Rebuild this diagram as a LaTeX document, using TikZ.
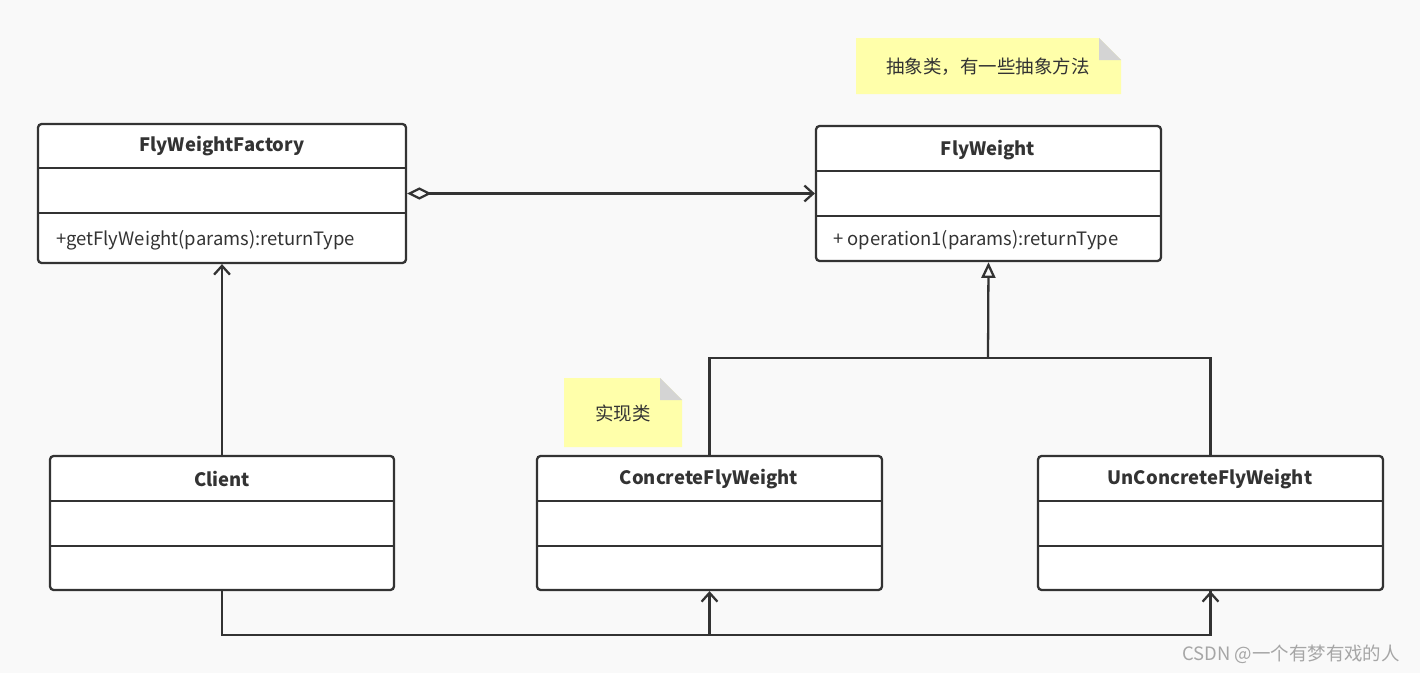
\documentclass[tikz,border=0pt]{standalone}
\usepackage{fontspec}
\setmainfont{Noto Sans CJK SC}
\usetikzlibrary{arrows.meta,positioning}
\definecolor{bgc}{HTML}{F9F9F9}
\definecolor{linec}{HTML}{333333}
\definecolor{notec}{HTML}{FFFFAA}
\definecolor{foldc}{HTML}{D4D4D4}
\tikzset{
  cls/.style={rectangle, draw=linec, line width=1.3pt, rounded corners=2pt,
    fill=white, inner sep=0pt},
  head/.style={font=\fontsize{10.5}{12}\selectfont\bfseries, text=linec},
  meth/.style={font=\fontsize{10.5}{12}\selectfont, text=linec, anchor=west},
  conn/.style={draw=linec, line width=1.3pt},
  open/.style={-{Straight Barb[length=5pt,width=9pt]}},
}
\begin{document}
\begin{tikzpicture}[x=0.02cm,y=-0.02cm]
\fill[bgc] (0,0) rectangle (1420,673);
\useasboundingbox (0,0) rectangle (1420,673);

% classes
\node[cls, minimum width=7.36cm, minimum height=2.78cm] (factory) at (222,193.5) {};
\node[cls, minimum width=6.9cm, minimum height=2.7cm] (fly) at (988.5,193.5) {};
\node[cls, minimum width=6.88cm, minimum height=2.68cm] (client) at (222,523) {};
\node[cls, minimum width=6.9cm, minimum height=2.68cm] (concrete) at (709.5,523) {};
\node[cls, minimum width=6.9cm, minimum height=2.68cm] (unconcrete) at (1210.5,523) {};

\draw[conn] (38,168) -- (406,168) (38,213) -- (406,213);
\draw[conn] (816,171) -- (1161,171) (816,216) -- (1161,216);
\foreach \xa/\xb in {50/394, 537/882, 1038/1383}
  \draw[conn] (\xa,501) -- (\xb,501) (\xa,546) -- (\xb,546);

\node[head] (t1) at (222,146) {FlyWeightFactory};
\node[head] (t2) at (988,150) {FlyWeight};
\node[head] (t3) at (222,479) {Client};
\node[head] (t4) at (709,479) {ConcreteFlyWeight};
\node[head] (t5) at (1210,479) {UnConcreteFlyWeight};
\node[meth] (m1) at (50,240) {+getFlyWeight(params):returnType};
\node[meth] (m2) at (827,240) {+ operation1(params):returnType};

% notes
\fill[notec] (856,38) -- (1099,38) -- (1121,60) -- (1121,94) -- (856,94) -- cycle;
\fill[foldc] (1099,38) -- (1121,60) -- (1099,60) -- cycle;
\node[text=linec, font=\fontsize{10.5}{12}\selectfont] (n1) at (988,67) {抽象类，有一些抽象方法};
\fill[notec] (564,378) -- (660,378) -- (682,400) -- (682,447) -- (564,447) -- cycle;
\fill[foldc] (660,378) -- (682,400) -- (660,400) -- cycle;
\node[text=linec, font=\fontsize{10.5}{12}\selectfont] (n2) at (623,413) {实现类};

% connectors
\draw[conn, {Diamond[open,length=14pt,width=7pt]}-{Straight Barb[length=5pt,width=9pt]}]
  (factory.east) -- (fly.west);
\draw[conn, open] (client.north) -- (factory.south);
\coordinate (join) at (988,358);
\draw[conn] (concrete.north) |- (join) -| (unconcrete.north);
\draw[conn, -{Triangle[open,length=9pt,width=8pt]}] (join) -- (fly.south);
\coordinate (bus) at (222,635);
\draw[conn] (client.south) -- (bus) -| (unconcrete.south);
\draw[conn, open] (concrete.south |- bus) -- (concrete.south);
\draw[conn, open] (unconcrete.south |- bus) -- (unconcrete.south);

\node[text=gray!70, font=\fontsize{10.5}{12}\selectfont, anchor=east] (wm) at (1406,654) {CSDN @一个有梦有戏的人};
\end{tikzpicture}
\end{document}
